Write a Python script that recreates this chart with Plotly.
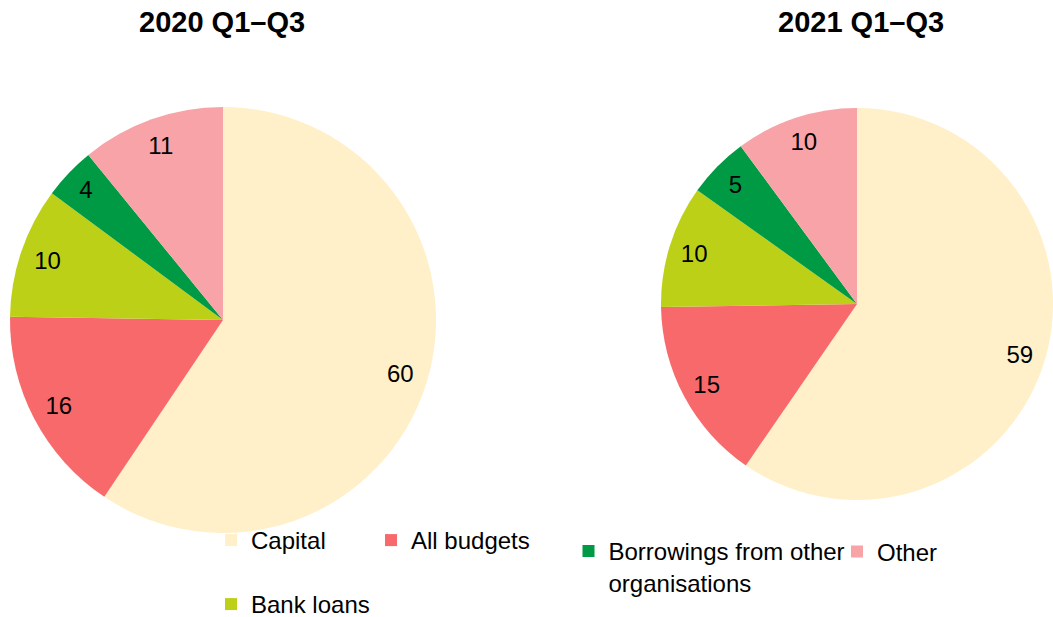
import plotly.graph_objects as go

categories = ["Capital", "All budgets", "Bank loans", "Borrowings from other organisations", "Other"]
legend_text = ["Capital", "All budgets", "Bank loans", "Borrowings from other<br>organisations", "Other"]
colors = ["#FFF0C9", "#F8696B", "#BDD018", "#009A44", "#F8A3A8"]
values_2020 = [60, 16, 10, 4, 11]
values_2021 = [59, 15, 10, 5, 10]
titles = ["2020 Q1\u2013Q3", "2021 Q1\u2013Q3"]

W, H = 1053, 617
FONT = "Liberation Sans, Arial, sans-serif"

def px_x(v):
    return v / W

def px_y(v):
    return (H - v) / H

domains = [
    dict(x=[px_x(10), px_x(436)], y=[px_y(533), px_y(107)]),
    dict(x=[px_x(661), 1.0], y=[px_y(502), px_y(106)]),
]

fig = go.Figure()
for vals, dom in zip([values_2020, values_2021], domains):
    # coloured slices
    fig.add_trace(go.Pie(
        labels=categories, values=vals, sort=False, direction="clockwise", rotation=0,
        domain=dom, marker=dict(colors=colors, line=dict(width=0)),
        textinfo="none", showlegend=False, hoverinfo="label+value",
    ))
    # transparent ring used only to place the value labels near the rim
    fig.add_trace(go.Pie(
        labels=categories, values=vals, sort=False, direction="clockwise", rotation=0,
        domain=dom, hole=0.74,
        marker=dict(colors=["rgba(0,0,0,0)"] * len(vals), line=dict(width=0)),
        textinfo="value", textposition="inside", insidetextorientation="horizontal",
        textfont=dict(family=FONT, size=24, color="black"),
        showlegend=False, hoverinfo="skip",
    ))

# legend entries, each in its own legend box
legend_pos = [
    (237, 540.5),
    (397, 540.5),
    (237, 604.5),
    (594.5, 548),
    (863, 552),
]
legend_ids = ["legend", "legend2", "legend3", "legend4", "legend5"]
layout_legends = {}
for name, txt, col, lid, (sx, sy) in zip(categories, legend_text, colors, legend_ids, legend_pos):
    fig.add_trace(go.Scatter(
        x=[None], y=[None], mode="markers", name=txt,
        marker=dict(symbol="square", size=12, color=col),
        legend=lid, showlegend=True, hoverinfo="skip",
    ))
    layout_legends[lid] = dict(
        x=px_x(sx - 26), y=px_y(sy), xanchor="left",
        yanchor="top" if "<br>" in txt else "middle",
        valign="top",
        font=dict(family=FONT, size=24, color="black"),
        bgcolor="rgba(0,0,0,0)", borderwidth=0,
    )
    if "<br>" in txt:
        layout_legends[lid]["y"] = px_y(sy - 19)

annotations = []
for t, xc in zip(titles, [222, 861]):
    annotations.append(dict(
        text="<b>" + t + "</b>", x=px_x(xc), y=px_y(22), xref="paper", yref="paper",
        xanchor="center", yanchor="middle", showarrow=False,
        font=dict(family=FONT, size=29, color="black"),
    ))

fig.update_layout(
    width=W, height=H,
    margin=dict(l=0, r=0, t=0, b=0, autoexpand=False),
    paper_bgcolor="white", plot_bgcolor="white",
    font=dict(family=FONT, color="black"),
    xaxis=dict(visible=False), yaxis=dict(visible=False),
    annotations=annotations,
    **layout_legends,
)

fig.write_html(
    "out.html",
    config={"displayModeBar": False},
    post_script="document.body.style.margin='0';document.body.style.overflow='hidden';",
)
